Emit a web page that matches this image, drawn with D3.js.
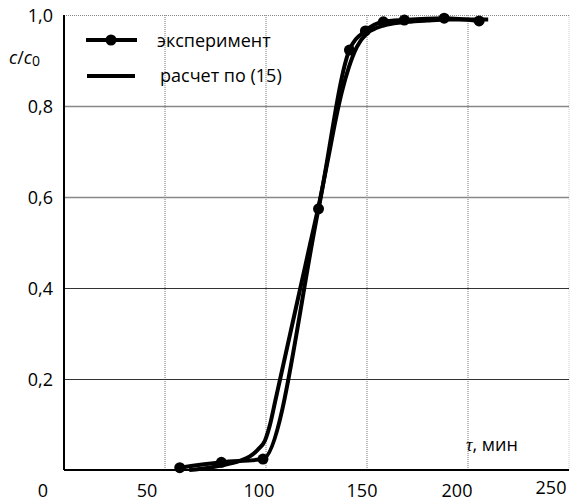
<!DOCTYPE html>
<html lang="ru">
<head>
<meta charset="UTF-8">
<title>c/c0</title>
<script src="https://d3js.org/d3.v7.min.js"></script>
<style>
  body { margin: 0; background: #fff; }
  text { font-family: "Open Sans", "DejaVu Sans", sans-serif; fill: #000; }
</style>
</head>
<body>
<div id="chart"></div>
<script>
// experiment points
var expTau = [57.3, 77.9, 98.5, 126, 141.3, 149.2, 158.1, 168.5, 188.2, 205.5];
var expC   = [0.005, 0.017, 0.024, 0.574, 0.923, 0.965, 0.985, 0.989, 0.993, 0.987];

// calculated curve, eq. (15)
var calcTau = [62, 72, 80, 87, 92, 96, 99.5, 102, 104.5, 107, 112, 117, 122, 127, 131, 134.5, 137.5, 141, 145, 150, 155, 160, 170, 180, 190, 200, 210];
var calcC   = [0, 0.005, 0.012, 0.02, 0.03, 0.045, 0.065, 0.1, 0.15, 0.2, 0.3, 0.4, 0.5, 0.6, 0.69, 0.77, 0.83, 0.885, 0.93, 0.96, 0.972, 0.979, 0.985, 0.988, 0.99, 0.99, 0.99];

var xTicks = [0, 50, 100, 150, 200, 250];
var yTicks = [0.2, 0.4, 0.6, 0.8, 1.0];
var yLabels = ["0,2", "0,4", "0,6", "0,8", "1,0"];
var seriesNames = ["эксперимент", "расчет по (15)"];

var W = 570, H = 502;
var margin = {top: 15, right: 1, bottom: 32, left: 64};
var width = W - margin.left - margin.right,
    height = H - margin.top - margin.bottom;

var svg = d3.select("#chart").append("svg")
    .attr("width", W).attr("height", H);
var g = svg.append("g")
    .attr("transform", "translate(" + margin.left + "," + margin.top + ")");

var x = d3.scaleLinear().domain([0, 250]).range([0, width]);
var y = d3.scaleLinear().domain([0, 1]).range([height, 0]);

// vertical dotted grid
g.selectAll(".vgrid").data(xTicks.slice(1))
  .enter().append("line")
    .attr("x1", d => x(d)).attr("x2", d => x(d))
    .attr("y1", 0).attr("y2", height)
    .attr("stroke", d => d == 250 ? "#ccc" : "#777")
    .attr("stroke-width", 1)
    .attr("stroke-dasharray", "1,1");

// top border dotted
g.append("line")
  .attr("x1", 0).attr("x2", width).attr("y1", 0.5).attr("y2", 0.5)
  .attr("stroke", "#888").attr("stroke-dasharray", "1,1");

// horizontal grid
g.selectAll(".hgrid").data(yTicks.filter(d => d < 1))
  .enter().append("line")
    .attr("x1", 0).attr("x2", width)
    .attr("y1", d => Math.round(y(d)) + 0.5).attr("y2", d => Math.round(y(d)) + 0.5)
    .attr("stroke", d => d > 0.5 ? "#888" : "#333")
    .attr("stroke-width", d => d > 0.5 ? 1.5 : 1);

// axes lines
g.append("line").attr("x1", 0).attr("x2", 0).attr("y1", 0).attr("y2", height)
  .attr("stroke", "#000").attr("stroke-width", 2);
g.append("line").attr("x1", 0).attr("x2", width).attr("y1", height).attr("y2", height)
  .attr("stroke", "#000").attr("stroke-width", 2);

// y labels
g.selectAll(".ylab").data(yTicks)
  .enter().append("text")
    .attr("x", -11).attr("y", d => y(d) + 1)
    .attr("dy", "0.35em")
    .attr("text-anchor", "end")
    .style("font-size", "18px")
    .text((d, i) => yLabels[i]);

// x labels (offset as in the original picture)
var xShift = [-21, -18, -7, -5, -11, -18];
g.selectAll(".xlab").data(xTicks)
  .enter().append("text")
    .attr("x", (d, i) => x(d) + xShift[i])
    .attr("y", (d, i) => height + (i == 5 ? 18 : 21))
    .attr("dy", "0.35em")
    .attr("text-anchor", "middle")
    .style("font-size", "18px")
    .text(d => d);

// axis titles
var yt = svg.append("text").attr("x", 9).attr("y", 64).style("font-size", "18px");
yt.append("tspan").style("font-style", "italic").text("c");
yt.append("tspan").text("/");
yt.append("tspan").style("font-style", "italic").text("c");
yt.append("tspan").attr("dy", 2).style("font-size", "14px").text("0");

var xt = svg.append("text").attr("x", 466).attr("y", 451).style("font-size", "18px");
xt.append("tspan").style("font-style", "italic").style("font-family", "'Liberation Serif', serif").text("τ");
xt.append("tspan").text(", мин");

// lines
var calcLine = d3.line()
  .x(d => x(d[0])).y(d => y(d[1]))
  .curve(d3.curveMonotoneX);
var expLine = d3.line()
  .x(d => x(d[0])).y(d => y(d[1]))
  .curve(d3.curveMonotoneX);

var calcData = calcTau.map((t, i) => [t, calcC[i]]);
var expData = expTau.map((t, i) => [t, expC[i]]);

g.append("path").datum(calcData)
  .attr("d", calcLine).attr("fill", "none")
  .attr("stroke", "#000").attr("stroke-width", 4);

g.append("path").datum(expData)
  .attr("d", expLine).attr("fill", "none")
  .attr("stroke", "#000").attr("stroke-width", 4);

g.selectAll(".pt").data(expData)
  .enter().append("circle")
    .attr("cx", d => x(d[0])).attr("cy", d => y(d[1]))
    .attr("r", 5.5).attr("fill", "#000");

// legend
var leg = svg.append("g");
leg.append("line").attr("x1", 86).attr("x2", 137).attr("y1", 40).attr("y2", 40)
  .attr("stroke", "#000").attr("stroke-width", 4);
leg.append("circle").attr("cx", 111).attr("cy", 40).attr("r", 5.5).attr("fill", "#000");
leg.append("text").attr("x", 157).attr("y", 41).attr("dy", "0.35em")
  .style("font-size", "18px").text(seriesNames[0]);
leg.append("line").attr("x1", 87).attr("x2", 135).attr("y1", 76).attr("y2", 76)
  .attr("stroke", "#000").attr("stroke-width", 4);
leg.append("text").attr("x", 160).attr("y", 76).attr("dy", "0.35em")
  .style("font-size", "18px").text(seriesNames[1]);
</script>
</body>
</html>
